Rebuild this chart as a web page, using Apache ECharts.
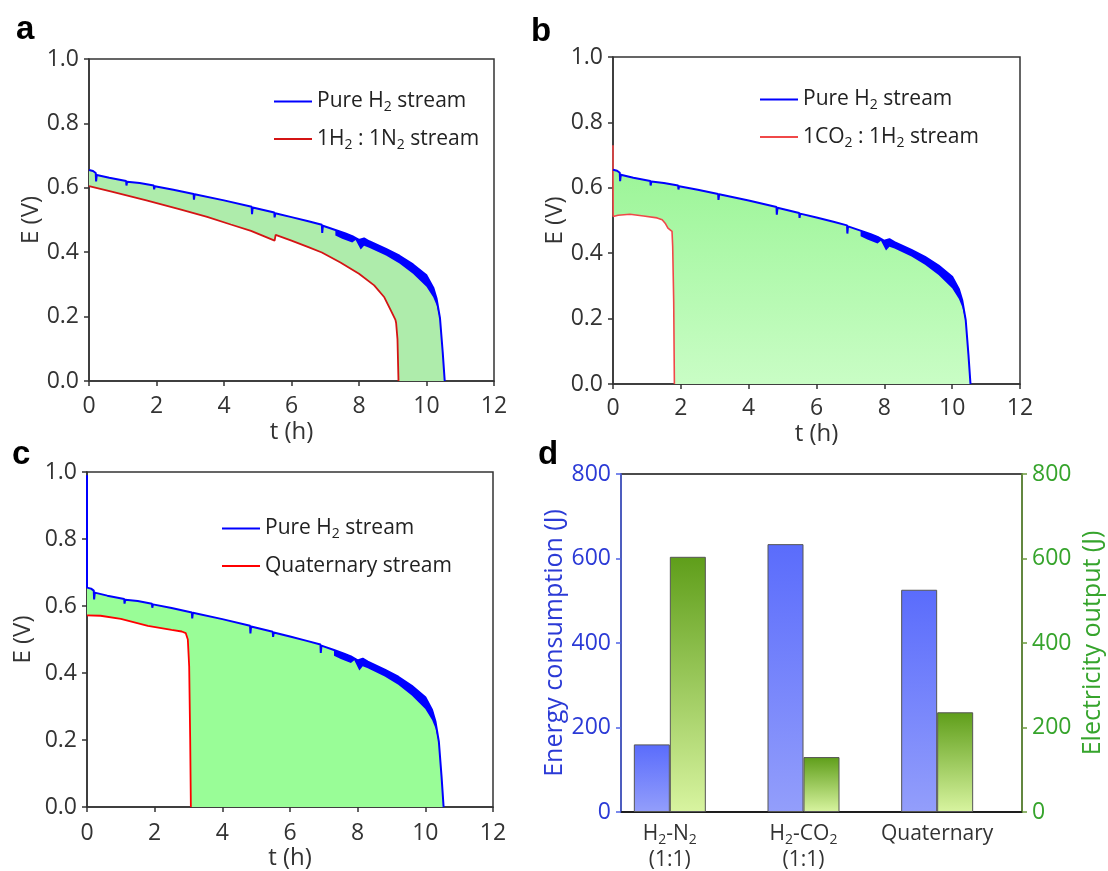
<!DOCTYPE html>
<html><head><meta charset="utf-8">
<script src="https://cdn.jsdelivr.net/npm/echarts@6/dist/echarts.min.js"></script>
<style>html,body{margin:0;padding:0;background:#fff}#c{width:1108px;height:871px}</style>
</head><body><div id="c"></div>
<script>
// ---------- data ----------
const timeTicks = [0, 2, 4, 6, 8, 10, 12];
const voltageTicks = [0, 0.2, 0.4, 0.6, 0.8, 1.0];
// Pure H2 stream (t h, E V) – upper envelope with small downward spikes
const pureH2 = [
  [0,0.655],[0.12,0.652],[0.2,0.646],[0.21,0.62],[0.23,0.64],[0.6,0.631],[1.1,0.621],[1.11,0.607],[1.13,0.619],
  [1.5,0.615],[1.92,0.607],[1.93,0.595],[1.95,0.605],[2.5,0.594],[3.1,0.581],[3.11,0.563],[3.13,0.58],[4.0,0.561],
  [4.82,0.541],[4.83,0.518],[4.85,0.539],[5.49,0.523],[5.5,0.508],[5.52,0.521],[6.0,0.509],[6.5,0.496],[6.9,0.485],
  [6.91,0.46],[6.93,0.482],[7.3,0.469],[7.6,0.458],[7.8,0.45],[8.0,0.438],[8.15,0.443],[8.3,0.434],[8.8,0.41],
  [9.2,0.389],[9.6,0.362],[10.0,0.328],[10.2,0.29],[10.3,0.255],[10.4,0.195],[10.48,0.09],[10.54,0]
];
// lower edge of the noisy (oscillating) band of the pure H2 curve
const pureH2BandLower = [
  [7.3,0.452],[7.5,0.442],[7.8,0.43],[7.9,0.438],[8.05,0.408],[8.15,0.42],[8.3,0.414],[8.8,0.39],
  [9.2,0.365],[9.6,0.333],[10.0,0.293],[10.2,0.26],[10.3,0.235],[10.38,0.2]
];
const pureH2StartC = [[0,0.99],[0,0.655]];
const h2n2 = [
  [0,0.605],[0.7,0.587],[1.7,0.561],[2.7,0.533],[3.5,0.51],[4.2,0.486],[4.8,0.466],[5.5,0.436],[5.53,0.454],
  [6.0,0.436],[6.5,0.416],[6.9,0.399],[7.45,0.368],[8.0,0.333],[8.45,0.297],[8.75,0.26],[8.95,0.218],
  [9.08,0.19],[9.1,0.18],[9.14,0.13],[9.17,0]
];
const co2h2 = [
  [0,0.73],[0.005,0.512],[0.15,0.516],[0.5,0.519],[0.9,0.514],[1.3,0.508],[1.45,0.502],[1.55,0.49],
  [1.62,0.477],[1.74,0.467],[1.76,0.42],[1.79,0.25],[1.81,0]
];
const quaternary = [
  [0,0.572],[0.4,0.571],[1.0,0.562],[1.8,0.541],[2.5,0.529],[2.8,0.524],[2.92,0.519],[2.98,0.5],
  [3.02,0.42],[3.05,0.2],[3.07,0]
];
const barCategories = ['H2-N2 (1:1)', 'H2-CO2 (1:1)', 'Quaternary'];
const energyConsumption = [160, 634, 526];
const electricityOutput = [604, 130, 236];
const energyTicks = [0, 200, 400, 600, 800];

// ---------- helpers ----------
const FONT = 'Open Sans';
const TXT = '#333';
const G = echarts.graphic;

const legendRich = {
  t: {fontSize: 21, color: '#222', fontFamily: FONT, lineHeight: 26},
  s: {fontSize: 14, color: '#222', fontFamily: FONT, lineHeight: 10, verticalAlign: 'bottom'}
};
const legendText = {
  'Pure H2 stream': '{t|Pure H}{s|2}{t| stream}',
  '1H2 : 1N2 stream': '{t|1H}{s|2}{t| : 1N}{s|2}{t| stream}',
  '1CO2 : 1H2 stream': '{t|1CO}{s|2}{t| : 1H}{s|2}{t| stream}',
  'Quaternary stream': '{t|Quaternary stream}'
};
const catText = {
  'H2-N2 (1:1)': '{t|H}{s|2}{t|-N}{s|2}\n{t|(1:1)}',
  'H2-CO2 (1:1)': '{t|H}{s|2}{t|-CO}{s|2}\n{t|(1:1)}',
  'Quaternary': '{t|Quaternary}'
};

function legend(left, top, names) {
  return {
    orient: 'vertical', left, top, padding: 0, itemGap: 14, itemWidth: 38, itemHeight: 2,
    icon: 'rect', align: 'left', data: names, selectedMode: false,
    formatter: n => legendText[n],
    textStyle: {fontSize: 21, fontFamily: FONT, color: '#222', rich: legendRich}
  };
}
function xAxisT(gi, margin, gap) {
  return {
    gridIndex: gi, type: 'value', min: timeTicks[0], max: timeTicks[timeTicks.length - 1], interval: 2,
    axisLine: {show: true, onZero: false, lineStyle: {color: TXT, width: 1.5}},
    axisTick: {show: true, length: 5, lineStyle: {color: TXT, width: 1.5}},
    axisLabel: {fontSize: 23, color: TXT, fontFamily: FONT, margin},
    splitLine: {show: false},
    name: 't (h)', nameLocation: 'middle', nameGap: gap,
    nameTextStyle: {fontSize: 24, color: TXT, fontFamily: FONT}
  };
}
function yAxisE(gi, gap) {
  return {
    gridIndex: gi, type: 'value', min: voltageTicks[0], max: voltageTicks[voltageTicks.length - 1], interval: 0.2,
    axisLine: {show: true, lineStyle: {color: TXT, width: 1.5}},
    axisTick: {show: true, length: 5, lineStyle: {color: TXT, width: 1.5}},
    axisLabel: {fontSize: 23, color: TXT, fontFamily: FONT, margin: 10, formatter: v => v.toFixed(1)},
    splitLine: {show: false},
    name: 'E (V)', nameLocation: 'middle', nameGap: gap, nameRotate: 90,
    nameTextStyle: {fontSize: 24, color: TXT, fontFamily: FONT}
  };
}
function polySeries(gi, upper, lower, fill, z) {
  return {
    type: 'custom', xAxisIndex: gi, yAxisIndex: gi, z, silent: true, clip: true,
    data: [[0, 0]],
    renderItem: (params, api) => {
      const pts = upper.concat(lower.slice().reverse()).map(p => api.coord(p));
      return {type: 'polygon', shape: {points: pts}, style: {fill: fill, stroke: null}};
    }
  };
}
function lineSeries(gi, name, data, color, width) {
  return {
    type: 'line', name, xAxisIndex: gi, yAxisIndex: gi, data, symbol: 'none', showSymbol: false, z: 5,
    lineStyle: {color, width}, itemStyle: {color}, clip: true
  };
}
const bandUpper = pureH2.filter(p => p[0] >= 7.3 && p[0] <= 10.4);
const blue = '#0000ff';

const option = {
  animation: false,
  backgroundColor: '#fff',
  textStyle: {fontFamily: FONT},
  grid: [
    {left: 89, top: 59, width: 405, height: 322, show: true, borderColor: TXT, borderWidth: 1.5},
    {left: 613, top: 57, width: 407, height: 327, show: true, borderColor: TXT, borderWidth: 1.5},
    {left: 87, top: 472, width: 406, height: 337, show: true, borderColor: TXT, borderWidth: 1.5},
    {left: 621, top: 474, width: 401, height: 338, show: true, borderColor: '#111', borderWidth: 1.5},
    {left: 603, top: 474, width: 401, height: 338}
  ],
  legend: [
    legend(274, 91, ['Pure H2 stream', '1H2 : 1N2 stream']),
    legend(760, 89, ['Pure H2 stream', '1CO2 : 1H2 stream']),
    legend(222, 518, ['Pure H2 stream', 'Quaternary stream'])
  ],
  xAxis: [
    xAxisT(0, 14, 39), xAxisT(1, 13, 38), xAxisT(2, 15, 37),
    {gridIndex: 3, type: 'value', min: 0, max: 1, axisLine: {show: true, lineStyle: {color: '#111', width: 1.5}},
      axisTick: {show: false}, axisLabel: {show: false}, splitLine: {show: false}},
    {gridIndex: 4, type: 'category', data: barCategories,
      axisLine: {show: false}, axisTick: {show: false}, splitLine: {show: false},
      axisLabel: {margin: 9, interval: 0, formatter: v => catText[v],
        rich: {
          t: {fontSize: 21, color: TXT, fontFamily: FONT, lineHeight: 26},
          s: {fontSize: 14, color: TXT, fontFamily: FONT, lineHeight: 10, verticalAlign: 'bottom'}
        }}}
  ],
  yAxis: [
    yAxisE(0, 46), yAxisE(1, 46), yAxisE(2, 52),
    {gridIndex: 3, type: 'value', position: 'left', min: energyTicks[0], max: energyTicks[energyTicks.length - 1], interval: 200,
      axisLine: {show: true, lineStyle: {color: '#4f63e6', width: 1.5}},
      axisTick: {show: true, length: 5, lineStyle: {color: '#4f63e6', width: 1.5}},
      axisLabel: {fontSize: 23, color: '#2b3ad6', fontFamily: FONT, margin: 10},
      splitLine: {show: false},
      name: 'Energy consumption (J)', nameLocation: 'middle', nameGap: 54, nameRotate: 90,
      nameTextStyle: {fontSize: 25, color: '#2b3ad6', fontFamily: FONT}},
    {gridIndex: 3, type: 'value', position: 'right', min: energyTicks[0], max: energyTicks[energyTicks.length - 1], interval: 200,
      axisLine: {show: true, lineStyle: {color: '#6b9b3c', width: 1.5}},
      axisTick: {show: true, length: 5, lineStyle: {color: '#6b9b3c', width: 1.5}},
      axisLabel: {fontSize: 23, color: '#36a42c', fontFamily: FONT, margin: 10},
      splitLine: {show: false},
      name: 'Electricity output (J)', nameLocation: 'middle', nameGap: 58, nameRotate: 90,
      nameTextStyle: {fontSize: 25, color: '#36a42c', fontFamily: FONT}},
    {gridIndex: 4, type: 'value', min: 0, max: 800, show: false},
    {gridIndex: 4, type: 'value', min: 0, max: 800, show: false, position: 'right'}
  ],
  series: [
    // panel a
    polySeries(0, pureH2, h2n2, '#aeecab', 1),
    polySeries(0, bandUpper, pureH2BandLower, blue, 2),
    lineSeries(0, '1H2 : 1N2 stream', h2n2, '#d41414', 1.8),
    lineSeries(0, 'Pure H2 stream', pureH2, blue, 2),
    // panel b
    polySeries(1, pureH2, co2h2.slice(1),
      new G.LinearGradient(0, 0, 0, 1, [{offset: 0, color: '#9cf598'}, {offset: 1, color: '#c9fdc5'}]), 1),
    polySeries(1, bandUpper, pureH2BandLower, blue, 2),
    lineSeries(1, '1CO2 : 1H2 stream', co2h2, '#f04848', 1.6),
    lineSeries(1, 'Pure H2 stream', pureH2, blue, 2),
    // panel c
    polySeries(2, pureH2, quaternary, '#99fd97', 1),
    polySeries(2, bandUpper, pureH2BandLower, blue, 2),
    lineSeries(2, 'Quaternary stream', quaternary, '#ff0000', 1.8),
    lineSeries(2, 'Pure H2 stream', pureH2StartC.concat(pureH2), blue, 2),
    // panel d
    {type: 'bar', name: 'Energy consumption', xAxisIndex: 4, yAxisIndex: 5, data: energyConsumption,
      barWidth: 36, barGap: '0%',
      itemStyle: {borderColor: '#555', borderWidth: 1,
        color: new G.LinearGradient(0, 0, 0, 1, [{offset: 0, color: '#5a6cfc'}, {offset: 1, color: '#939efb'}])}},
    {type: 'bar', name: 'Electricity output', xAxisIndex: 4, yAxisIndex: 6, data: electricityOutput,
      barWidth: 36, barGap: '0%',
      itemStyle: {borderColor: '#555', borderWidth: 1,
        color: new G.LinearGradient(0, 0, 0, 1, [{offset: 0, color: '#5f9e1a'}, {offset: 1, color: '#d8f4a0'}])}}
  ],
  graphic: [
    {type: 'text', x: 16, y: 46, style: {text: 'a', font: 'bold 33px Arial', fill: '#000', verticalAlign: 'bottom'}},
    {type: 'text', x: 531, y: 48, style: {text: 'b', font: 'bold 33px Arial', fill: '#000', verticalAlign: 'bottom'}},
    {type: 'text', x: 12, y: 471, style: {text: 'c', font: 'bold 33px Arial', fill: '#000', verticalAlign: 'bottom'}},
    {type: 'text', x: 538, y: 471, style: {text: 'd', font: 'bold 33px Arial', fill: '#000', verticalAlign: 'bottom'}}
  ]
};
const chart = echarts.init(document.getElementById('c'), null, {renderer: 'canvas'});
chart.setOption(option);
</script></body></html>
